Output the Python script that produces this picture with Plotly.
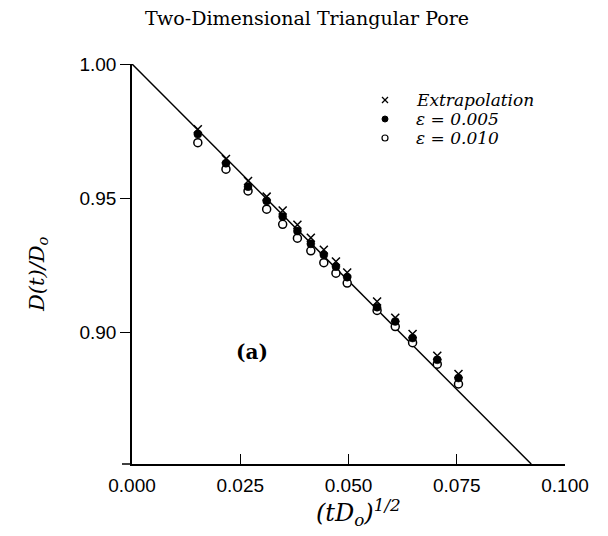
import plotly.graph_objects as go

# (tD_o)^(1/2) positions of the data clusters
x_vals = [0.0152, 0.0217, 0.0268, 0.0311, 0.0348, 0.0382, 0.0413, 0.0443,
          0.0471, 0.0497, 0.0566, 0.0608, 0.0648, 0.0705, 0.0754]
# D(t)/D_o values
extrap = [0.9757, 0.9646, 0.9564, 0.9506, 0.9454, 0.9401, 0.9353, 0.9308,
          0.9264, 0.9223, 0.9115, 0.9055, 0.8994, 0.8913, 0.8845]
eps005 = [0.9739, 0.9630, 0.9543, 0.9490, 0.9432, 0.9378, 0.9330, 0.9289,
          0.9245, 0.9206, 0.9094, 0.9041, 0.8979, 0.8898, 0.8830]
eps010 = [0.9707, 0.9608, 0.9527, 0.9459, 0.9403, 0.9351, 0.9304, 0.9260,
          0.9221, 0.9184, 0.9082, 0.9022, 0.8962, 0.8882, 0.8808]
# straight line
fit_x = [0.0, 0.0922]
fit_y = [1.0, 0.851]

x_ticks = [0.0, 0.025, 0.05, 0.075, 0.1]
x_ticklabels = ["0.000", "0.025", "0.050", "0.075", "0.100"]
y_ticks = [0.90, 0.95, 1.00]
y_ticklabels = ["0.90", "0.95", "1.00"]

legend_labels = ["<i>Extrapolation</i>", "<i>ε = 0.005</i>", "<i>ε = 0.010</i>"]

SERIF = "DejaVu Serif"
SANS = "Liberation Sans, Arial, sans-serif"

fig = go.Figure()
fig.add_trace(go.Scatter(x=fit_x, y=fit_y, mode="lines",
                         line=dict(color="black", width=1.5), showlegend=False,
                         cliponaxis=False))
fig.add_trace(go.Scatter(x=x_vals, y=eps010, mode="markers",
                         marker=dict(symbol="circle", size=8, color="white",
                                     line=dict(color="black", width=1.5)),
                         showlegend=False))
fig.add_trace(go.Scatter(x=x_vals, y=eps005, mode="markers",
                         marker=dict(symbol="circle", size=8, color="black",
                                     line=dict(color="black", width=0.5)),
                         showlegend=False))
fig.add_trace(go.Scatter(x=x_vals, y=extrap, mode="markers",
                         marker=dict(symbol="x-thin", size=8,
                                     line=dict(color="black", width=1.5)),
                         showlegend=False))

L, R, T, B = 132, 43, 64, 72
W, H = 608, 536
pw, ph = W - L - R, H - T - B


def px(xp):
    return (xp - L) / pw


def py(yp):
    return (H - B - yp) / ph


shapes = []
# x-axis extension to the left of the y axis
shapes.append(dict(type="line", xref="paper", yref="paper", x0=px(122), x1=0,
                   y0=0, y1=0, line=dict(color="black", width=1.5)))
# legend markers
lx = px(385)
rows = [py(100), py(119), py(138)]
shapes.append(dict(type="line", xref="paper", yref="paper", xsizemode="pixel",
                   ysizemode="pixel", xanchor=lx, yanchor=rows[0],
                   x0=-3, x1=3, y0=-3, y1=3, line=dict(color="black", width=1.2)))
shapes.append(dict(type="line", xref="paper", yref="paper", xsizemode="pixel",
                   ysizemode="pixel", xanchor=lx, yanchor=rows[0],
                   x0=-3, x1=3, y0=3, y1=-3, line=dict(color="black", width=1.2)))
shapes.append(dict(type="circle", xref="paper", yref="paper", xsizemode="pixel",
                   ysizemode="pixel", xanchor=lx, yanchor=rows[1],
                   x0=-3, x1=3, y0=-3, y1=3, fillcolor="black",
                   line=dict(color="black", width=1)))
shapes.append(dict(type="circle", xref="paper", yref="paper", xsizemode="pixel",
                   ysizemode="pixel", xanchor=lx, yanchor=rows[2],
                   x0=-3, x1=3, y0=-3, y1=3, fillcolor="white",
                   line=dict(color="black", width=1.2)))

annotations = []
for lab, ry in zip(legend_labels, rows):
    annotations.append(dict(xref="paper", yref="paper", x=px(414), y=ry,
                            xanchor="left", yanchor="middle", text=lab,
                            showarrow=False, font=dict(family=SERIF, size=17, color="black")))
annotations.append(dict(xref="paper", yref="paper", x=px(252), y=py(352),
                        xanchor="center", yanchor="middle", text="<b>(a)</b>",
                        showarrow=False, font=dict(family=SERIF, size=20, color="black")))
annotations.append(dict(xref="paper", yref="paper", x=px(358), y=py(512),
                        xanchor="center", yanchor="middle",
                        text="<i>(tD<sub>o</sub>)<sup>1/2</sup></i>",
                        showarrow=False, font=dict(family=SERIF, size=24, color="black")))
annotations.append(dict(xref="paper", yref="paper", x=px(38), y=py(274),
                        xanchor="center", yanchor="middle", textangle=-90,
                        text="<i>D(t)/D<sub>o</sub></i>",
                        showarrow=False, font=dict(family=SERIF, size=21, color="black")))

fig.update_layout(
    width=W, height=H,
    margin=dict(l=L, r=R, t=T, b=B, pad=0),
    paper_bgcolor="white", plot_bgcolor="white",
    title=dict(text="Two-Dimensional Triangular Pore", x=0.505, xanchor="center",
               y=1 - 18 / H, yanchor="middle", yref="container",
               font=dict(family=SERIF, size=19, color="black")),
    xaxis=dict(range=[0, 0.1], tickvals=x_ticks, ticktext=x_ticklabels,
               ticks="inside", ticklen=10, tickwidth=1.2, tickcolor="black",
               showline=True, linecolor="black", linewidth=1.5, showgrid=False,
               zeroline=False, ticklabelstandoff=3,
               tickfont=dict(family=SANS, size=19, color="black")),
    yaxis=dict(range=[0.851, 1.0], tickvals=y_ticks, ticktext=y_ticklabels,
               ticks="outside", ticklen=10, tickwidth=1.2, tickcolor="black",
               showline=True, linecolor="black", linewidth=1.5, showgrid=False,
               zeroline=False,
               tickfont=dict(family=SANS, size=19, color="black")),
    shapes=shapes, annotations=annotations, showlegend=False,
)

fig.write_html("out.html")
